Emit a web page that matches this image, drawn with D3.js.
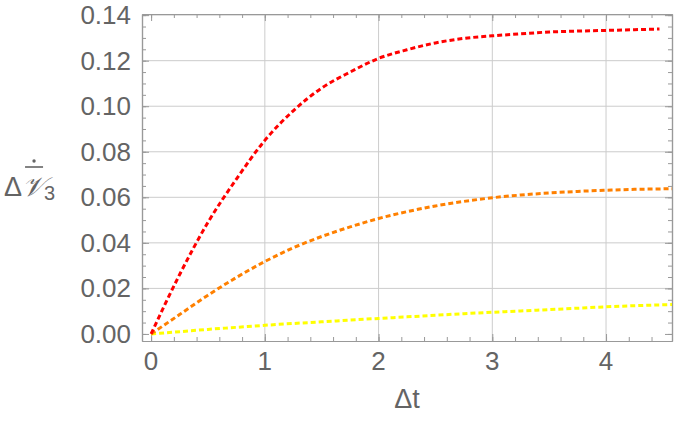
<!DOCTYPE html>
<html>
<head>
<meta charset="utf-8">
<script src="https://cdn.jsdelivr.net/npm/d3@7"></script>
<style>
  body { margin: 0; background: #fff; }
  svg { display: block; }
  text { font-family: "Liberation Sans", Arial, sans-serif; }
</style>
</head>
<body>
<div id="chart"></div>
<script>
// values
const timeRed  = [0, 0.25, 0.5, 0.75, 1, 1.25, 1.5, 1.75, 2, 2.25, 2.5, 2.75, 3, 3.25, 3.5, 3.75, 4, 4.25, 4.47];
const timeFull = [0, 0.25, 0.5, 0.75, 1, 1.25, 1.5, 1.75, 2, 2.25, 2.5, 2.75, 3, 3.25, 3.5, 3.75, 4, 4.25, 4.5, 4.58];

const redValues    = [0, 0.026, 0.049, 0.068, 0.085, 0.098, 0.108, 0.115, 0.121, 0.1248, 0.1278, 0.1298, 0.1309, 0.1318, 0.1326, 0.1330, 0.1333, 0.1336, 0.1339];
const orangeValues = [0, 0.0085, 0.0170, 0.0248, 0.0318, 0.0378, 0.0428, 0.0470, 0.0507, 0.0537, 0.0562, 0.0582, 0.0598, 0.0610, 0.0619, 0.0626, 0.0631, 0.0635, 0.0637, 0.0638];
const yellowValues = [0, 0.0010, 0.0020, 0.0029, 0.0038, 0.0046, 0.0053, 0.0061, 0.0068, 0.0075, 0.0082, 0.0089, 0.0095, 0.0101, 0.0107, 0.0113, 0.0119, 0.0124, 0.0128, 0.0129];

const xTicks = [0, 1, 2, 3, 4];
const yTicks = [0, 0.02, 0.04, 0.06, 0.08, 0.10, 0.12, 0.14];

const width = 675, height = 430;
const margin = {top: 14, right: 3, bottom: 89, left: 142};

const svg = d3.select("#chart").append("svg")
    .attr("width", width)
    .attr("height", height);

const x = d3.scaleLinear()
    .domain([-0.08, 4.58])
    .range([margin.left, width - margin.right]);

const y = d3.scaleLinear()
    .domain([-0.0031, 0.1405])
    .range([height - margin.bottom, margin.top]);

const frameColor = "#999999";
const gridColor = "#cccccc";
const labelColor = "#646464";

// grid lines
svg.append("g")
    .selectAll("line")
    .data(xTicks.filter(d => d > 0))
    .join("line")
    .attr("x1", d => x(d)).attr("x2", d => x(d))
    .attr("y1", y.range()[0]).attr("y2", y.range()[1])
    .attr("stroke", gridColor).attr("stroke-width", 1);

svg.append("g")
    .selectAll("line")
    .data(yTicks.filter(d => d > 0))
    .join("line")
    .attr("x1", x.range()[0]).attr("x2", x.range()[1])
    .attr("y1", d => y(d)).attr("y2", d => y(d))
    .attr("stroke", gridColor).attr("stroke-width", 1);

// frame with inward ticks on all sides
const xMinor = d3.range(0, 4.6, 0.2).filter(d => x(d) < x.range()[1]);
const yMinor = d3.range(0, 0.1401, 0.005);

function frameAxis(axisFn, scale, ticks, len, pos) {
    const g = svg.append("g")
        .attr("transform", pos)
        .call(axisFn(scale).tickValues(ticks).tickSize(len).tickSizeOuter(0).tickFormat(""));
    g.select(".domain").attr("stroke", frameColor);
    g.selectAll(".tick line").attr("stroke", frameColor);
    return g;
}

const bottomY = y.range()[0], topY = y.range()[1];
const leftX = x.range()[0], rightX = x.range()[1];

// minor ticks
frameAxis(d3.axisTop, x, xMinor, 4, `translate(0,${bottomY})`);
frameAxis(d3.axisBottom, x, xMinor, 4, `translate(0,${topY})`);
frameAxis(d3.axisRight, y, yMinor, 4, `translate(${leftX},0)`);
frameAxis(d3.axisLeft, y, yMinor, 4, `translate(${rightX},0)`);
// major ticks
frameAxis(d3.axisTop, x, xTicks, 7, `translate(0,${bottomY})`);
frameAxis(d3.axisBottom, x, xTicks, 7, `translate(0,${topY})`);
frameAxis(d3.axisRight, y, yTicks, 7, `translate(${leftX},0)`);
frameAxis(d3.axisLeft, y, yTicks, 7, `translate(${rightX},0)`);

svg.selectAll(".domain").attr("stroke-width", 1.2);

// tick labels
svg.append("g")
    .selectAll("text")
    .data(xTicks)
    .join("text")
    .attr("x", d => x(d))
    .attr("y", bottomY + 29)
    .attr("text-anchor", "middle")
    .attr("font-size", 26)
    .attr("fill", labelColor)
    .text(d => d);

svg.append("g")
    .selectAll("text")
    .data(yTicks)
    .join("text")
    .attr("x", leftX - 11)
    .attr("y", d => y(d))
    .attr("dy", "0.35em")
    .attr("text-anchor", "end")
    .attr("font-size", 26)
    .attr("fill", labelColor)
    .text(d => d3.format(".2f")(d));

// axis labels
svg.append("text")
    .attr("x", (leftX + rightX) / 2)
    .attr("y", 408)
    .attr("text-anchor", "middle")
    .attr("font-size", 27)
    .attr("fill", labelColor)
    .text("Δt");

const yl = svg.append("text")
    .attr("x", 4)
    .attr("y", 196)
    .attr("font-size", 27)
    .attr("fill", labelColor);
yl.append("tspan").text("Δ");
const vSpan = yl.append("tspan")
    .attr("font-family", "'DejaVu Serif', 'DejaVu Sans', serif")
    .attr("font-style", "italic")
    .text("𝒱");
yl.append("tspan").attr("font-size", 20).attr("dy", 4).text("3");

// bar and dot above the V
const vBox = vSpan.node().getExtentOfChar(0);
svg.append("line")
    .attr("x1", vBox.x + 3).attr("x2", vBox.x + vBox.width - 1)
    .attr("y1", 167).attr("y2", 167)
    .attr("stroke", labelColor).attr("stroke-width", 1.6);
svg.append("circle")
    .attr("cx", vBox.x + vBox.width / 2 + 1).attr("cy", 161)
    .attr("r", 1.7).attr("fill", labelColor);

// curves
const line = d3.line()
    .x(d => x(d[0]))
    .y(d => y(d[1]))
    .curve(d3.curveMonotoneX);

const series = [
    {times: timeFull, values: yellowValues, color: "#ffff00"},
    {times: timeFull, values: orangeValues, color: "#ff8000"},
    {times: timeRed, values: redValues, color: "#ff0000"}
];

svg.append("g")
    .selectAll("path")
    .data(series)
    .join("path")
    .attr("d", s => line(s.times.map((t, i) => [t, s.values[i]])))
    .attr("fill", "none")
    .attr("stroke", s => s.color)
    .attr("stroke-width", 3)
    .attr("stroke-dasharray", "5,3");
</script>
</body>
</html>
